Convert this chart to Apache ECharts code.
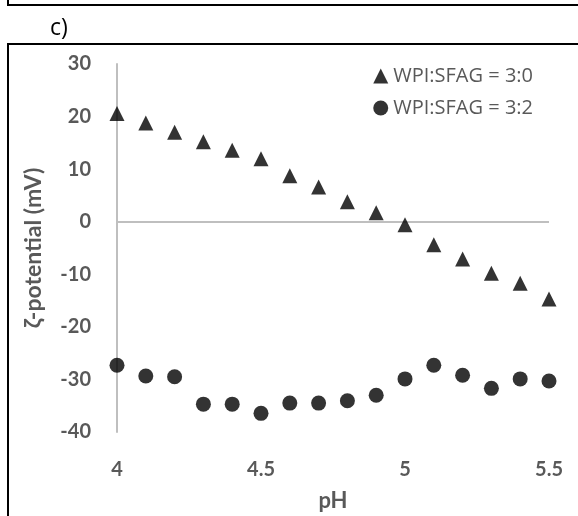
<!DOCTYPE html>
<html>
<head>
<meta charset="utf-8">
<script src="https://cdn.jsdelivr.net/npm/echarts@6/dist/echarts.min.js"></script>
<style>
  html, body { margin: 0; padding: 0; background: #fff; }
  #chart { width: 578px; height: 516px; }
</style>
</head>
<body>
<div id="chart"></div>
<script>
// pH values (x) shared by both series
const phValues = [4.0, 4.1, 4.2, 4.3, 4.4, 4.5, 4.6, 4.7, 4.8, 4.9, 5.0, 5.1, 5.2, 5.3, 5.4, 5.5];

// zeta potential, mV
const zeta30 = [20.6, 18.8, 17.0, 15.2, 13.6, 12.0, 8.75, 6.6, 3.8, 1.7, -0.6, -4.4, -7.1, -9.8, -11.7, -14.7];
const zeta32 = [-27.3, -29.35, -29.5, -34.7, -34.7, -36.45, -34.5, -34.5, -34.05, -33.0, -29.9, -27.3, -29.2, -31.7, -29.9, -30.3];

const seriesNames = ['WPI:SFAG = 3:0', 'WPI:SFAG = 3:2'];

const grey = '#595959';
const font = 'Lato, "Open Sans", sans-serif';

const chart = echarts.init(document.getElementById('chart'));

chart.setOption({
  backgroundColor: '#fff',
  animation: false,
  grid: { left: 117, right: 29, top: 64, bottom: 84, outerBoundsMode: 'none', containLabel: false },
  legend: {
    orient: 'vertical',
    right: 40,
    top: 61,
    itemWidth: 15,
    itemHeight: 15,
    itemGap: 12,
    textStyle: { color: grey, fontSize: 20, fontFamily: '"Open Sans", sans-serif' },
    data: [
      { name: seriesNames[0], icon: 'triangle', itemStyle: { color: '#000' } },
      { name: seriesNames[1], icon: 'circle', itemStyle: { color: '#000' } },
    ],
  },
  xAxis: {
    type: 'value',
    min: 4,
    max: 5.5,
    interval: 0.5,
    name: 'pH',
    nameLocation: 'middle',
    nameGap: 58,
    nameTextStyle: { color: grey, fontSize: 22, fontWeight: 'bold', fontFamily: font },
    axisLine: { show: false },
    axisTick: { show: false },
    splitLine: { show: false },
    axisLabel: { color: grey, fontSize: 20, fontWeight: 'bold', fontFamily: font, margin: 28 },
  },
  yAxis: {
    type: 'value',
    min: -40,
    max: 30,
    interval: 10,
    name: 'ζ-potential (mV)',
    nameLocation: 'middle',
    nameGap: 72,
    nameTextStyle: { color: grey, fontSize: 23, fontWeight: 'bold', fontFamily: font },
    axisLine: { show: true, onZero: false, lineStyle: { color: '#bfbfbf', width: 2 } },
    axisTick: { show: false },
    splitLine: { show: false },
    axisLabel: { color: grey, fontSize: 20, fontWeight: 'bold', fontFamily: font, margin: 26 },
  },
  series: [
    {
      name: seriesNames[0],
      type: 'scatter',
      symbol: 'triangle',
      symbolSize: [15, 15],
      itemStyle: { color: '#000' },
      data: phValues.map((x, i) => [x, zeta30[i]]),
      z: 3,
      markLine: {
        silent: true,
        symbol: 'none',
        label: { show: false },
        lineStyle: { color: '#bfbfbf', width: 2, type: 'solid' },
        data: [{ yAxis: 0 }],
        z: 1,
      },
    },
    {
      name: seriesNames[1],
      type: 'scatter',
      symbol: 'circle',
      symbolSize: 15,
      itemStyle: { color: '#000' },
      data: phValues.map((x, i) => [x, zeta32[i]]),
    },
  ],
  graphic: [
    // frame of the previous panel and of this panel
    { type: 'line', shape: { x1: 8, y1: 0, x2: 8, y2: 5 }, style: { stroke: '#000', lineWidth: 2 } },
    { type: 'line', shape: { x1: 7, y1: 5, x2: 578, y2: 5 }, style: { stroke: '#000', lineWidth: 2 } },
    { type: 'line', shape: { x1: 7, y1: 44, x2: 578, y2: 44 }, style: { stroke: '#000', lineWidth: 2 } },
    { type: 'line', shape: { x1: 8, y1: 44, x2: 8, y2: 516 }, style: { stroke: '#000', lineWidth: 2 } },
    {
      type: 'text',
      left: 50,
      top: 17,
      style: { text: 'c)', fill: '#000', fontSize: 23, fontFamily: '"Open Sans", sans-serif' },
    },
  ],
});
</script>
</body>
</html>
